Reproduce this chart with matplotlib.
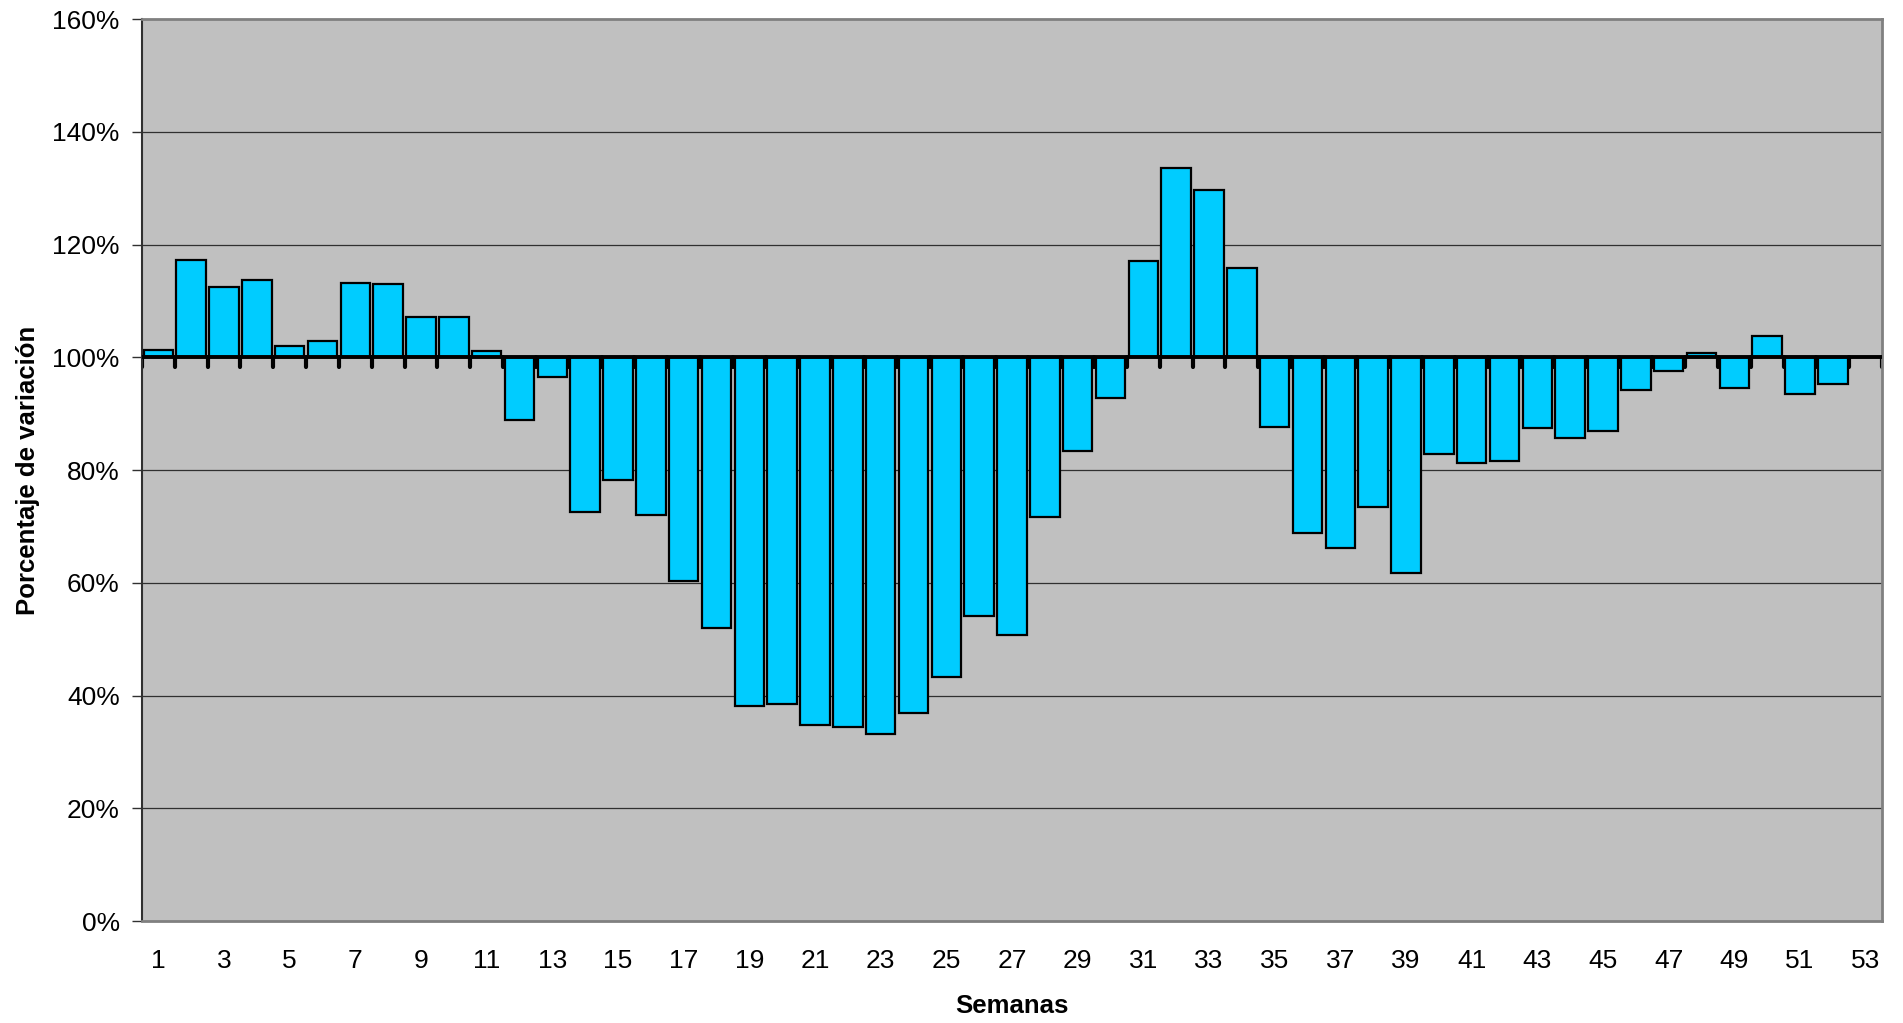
import matplotlib.pyplot as plt
from matplotlib.markers import MarkerStyle
import numpy as np

plt.rcParams['font.family'] = ['Liberation Sans', 'DejaVu Sans']

# semanas 1..53 y porcentaje respecto a la semana base (100%)
semanas = list(range(1, 54))
porcentaje = [
    101.3, 117.2, 112.5, 113.7, 102.0, 102.8, 113.1, 113.0, 107.1, 107.2,
    101.2, 88.9, 96.5, 72.5, 78.3, 72.0, 60.4, 52.0, 38.2, 38.5,
    34.7, 34.4, 33.2, 36.9, 43.2, 54.1, 50.7, 71.6, 83.3, 92.7,
    117.1, 133.6, 129.6, 115.8, 87.6, 68.9, 66.1, 73.4, 61.8, 82.8,
    81.2, 81.6, 87.5, 85.6, 86.9, 94.2, 97.6, 100.8, 94.6, 103.8,
    93.5, 95.3, 100.0,
]
base = 100
yticks = [0, 20, 40, 60, 80, 100, 120, 140, 160]

fig = plt.figure(figsize=(19.03, 10.23), dpi=100)
ax = fig.add_axes([0.0746, 0.0997, 0.9144, 0.8817])
ax.set_facecolor('#C0C0C0')

x = np.array(semanas)
alturas = np.array(porcentaje) - base
ax.bar(x, alturas, bottom=base, width=0.9, color='#00CCFF',
       edgecolor='black', linewidth=1.6, zorder=3)

# lineas de division
for v in yticks[1:-1]:
    ax.axhline(v, color='#303030', linewidth=0.9, zorder=1)

# eje de categorias cruzando en 100%
ax.axhline(base, color='black', linewidth=2.8, zorder=4)
limites = np.arange(0.5, len(semanas) + 1, 1.0)
ax.plot(limites, [base] * len(limites), linestyle='none',
        marker=MarkerStyle(3, capstyle='round'), markersize=7,
        markeredgewidth=3, color='black', zorder=2)

ax.set_xlim(0.5, len(semanas) + 0.5)
ax.set_ylim(0, 160)
ax.set_yticks(yticks)
ax.set_yticklabels([f'{v}%' for v in yticks], fontsize=19)
ax.set_xticks(semanas[::2])
ax.set_xticklabels([str(s) for s in semanas[::2]], fontsize=19)
ax.tick_params(axis='x', length=0, pad=20)
ax.tick_params(axis='y', length=7, width=1, color='#303030', pad=9)

ax.spines['left'].set_color('#303030')
ax.spines['left'].set_linewidth(1.5)
for lado in ['top', 'right', 'bottom']:
    ax.spines[lado].set_color('#808080')
    ax.spines[lado].set_linewidth(2)

ax.set_ylabel('Porcentaje de variación', fontsize=18.5, fontweight='bold',
              labelpad=9)
ax.set_xlabel('Semanas', fontsize=18.5, fontweight='bold', labelpad=15)

fig.savefig('out.png', dpi=100)
